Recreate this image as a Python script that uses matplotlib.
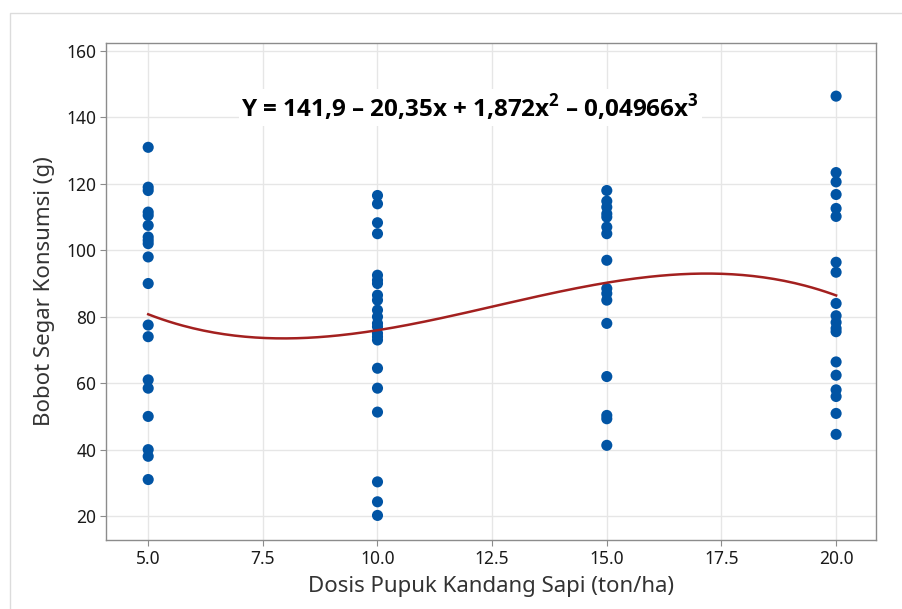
import numpy as np
import matplotlib
matplotlib.use('Agg')
import matplotlib.pyplot as plt
from matplotlib.patches import Rectangle

# dosis pupuk (ton/ha) and bobot segar konsumsi (g)
dosis_5 = [131, 119, 118, 111.5, 110.5, 107.5, 104, 103, 102, 98, 90,
           77.5, 74, 61, 58.5, 50, 40, 38, 31]
dosis_10 = [116.5, 114, 108.3, 105, 92.5, 91, 90, 86.5, 85, 82, 80, 78,
            77, 75, 74, 73, 64.5, 58.5, 51.3, 30.3, 24.3, 20.2]
dosis_15 = [118, 114.8, 113, 111, 110, 107, 105, 97, 88.5, 87, 85, 78,
            62, 50.3, 49.3, 41.3]
dosis_20 = [146.4, 123.4, 120.6, 116.8, 112.6, 110.2, 96.4, 93.4, 84,
            80.3, 78.3, 76.5, 75.5, 66.4, 62.4, 58, 56, 50.9, 44.6]
groups = {5: dosis_5, 10: dosis_10, 15: dosis_15, 20: dosis_20}

# cubic fit coefficients shown on the chart
coef = [141.9, -20.35, 1.872, -0.04966]

x_ticks = [5.0, 7.5, 10.0, 12.5, 15.0, 17.5, 20.0]
y_ticks = [20, 40, 60, 80, 100, 120, 140, 160]

plt.rcParams['font.family'] = ['Noto Sans', 'DejaVu Sans']
plt.rcParams['mathtext.fontset'] = 'custom'
plt.rcParams['mathtext.rm'] = 'Open Sans:bold'
plt.rcParams['mathtext.bf'] = 'Open Sans:bold'

fig = plt.figure(figsize=(9.03, 6.09), dpi=100)
fig.patches.append(Rectangle((10 / 903, -0.01), 1.0, 1 - 13 / 609 + 0.01,
                             transform=fig.transFigure, fill=False,
                             edgecolor='#dcdcdc', lw=1.0))
ax = fig.add_axes([106 / 903, 1 - 540 / 609, 770 / 903, 497 / 609])

for dose, vals in groups.items():
    ax.scatter([dose] * len(vals), vals, s=64, color='#0154a4',
               edgecolors='none', zorder=3)

xs = np.linspace(5, 20, 200)
ys = coef[0] + coef[1] * xs + coef[2] * xs ** 2 + coef[3] * xs ** 3
ax.plot(xs, ys, color='#a3201f', lw=1.8, zorder=4)

ax.set_xlim(4.08, 20.87)
ax.set_ylim(12.8, 162.4)
ax.set_xticks(x_ticks)
ax.set_xticklabels(['%.1f' % t for t in x_ticks])
ax.set_yticks(y_ticks)
ax.grid(True, color='#e6e6e6', lw=1.0, zorder=0)
ax.set_axisbelow(True)
for sp in ax.spines.values():
    sp.set_color('#8c8c8c')
    sp.set_linewidth(1.0)
ax.tick_params(axis='both', length=4, color='#8c8c8c', labelsize=12.5,
               labelcolor='#1a1a1a', pad=3)

ax.set_xlabel('Dosis Pupuk Kandang Sapi (ton/ha)', fontsize=16,
              color='#333333', labelpad=6)
ax.set_ylabel('Bobot Segar Konsumsi (g)', fontsize=16, color='#333333',
              labelpad=8)

eq = r'Y = 141,9 – 20,35x + 1,872x$^{2}$ – 0,04966x$^{3}$'
ax.text(0.473, 0.87, eq, transform=ax.transAxes, ha='center', va='center',
        fontsize=17.5, fontfamily='Open Sans', fontweight='bold',
        color='black', zorder=5,
        bbox=dict(facecolor='white', edgecolor='none', pad=2))

fig.savefig('out.png', dpi=100)
